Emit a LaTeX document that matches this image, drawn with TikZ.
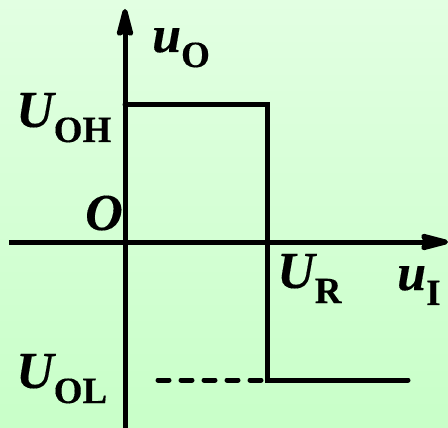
\documentclass[tikz,border=0pt]{standalone}
\usepackage{fontspec}
\setmainfont{Liberation Serif}[BoldFeatures={FakeBold=0.25}, BoldItalicFeatures={FakeBold=0.25}]
\usepackage{xcolor}
\usetikzlibrary{arrows.meta}

\definecolor{bgtop}{RGB}{226,255,226}
\definecolor{bgbottom}{RGB}{200,255,200}

\newcommand{\symsub}[2]{{\itshape #1}\raisebox{-15pt}{\fontsize{37}{37}\selectfont #2}}

\begin{document}
\begin{tikzpicture}[
  x=1pt, y=-1pt,
  lbl/.style={anchor=base west, inner sep=0pt, font=\fontsize{52}{52}\selectfont\bfseries},
  axis/.style={line width=5pt, -{Stealth[length=36pt, width=18pt, inset=4pt, round]}},
  curve/.style={line width=5pt, line cap=round, line join=miter},
  dashline/.style={line width=5pt, line cap=round, dash pattern=on 11pt off 12pt},
]
  % background
  \shade[top color=bgtop, bottom color=bgbottom] (0,0) rectangle (448,428);
  \useasboundingbox (0,0) rectangle (448,428);

  % axes
  \coordinate (xstart) at (9,242);
  \coordinate (xend) at (448,242);
  \coordinate (ystart) at (125,430);
  \coordinate (yend) at (125,9);
  \draw[axis] (xstart) -- (xend);
  \draw[axis] (ystart) -- (yend);

  % transfer characteristic
  \coordinate (high0) at (125,105);
  \coordinate (high1) at (267,105);
  \coordinate (low0) at (267,380);
  \coordinate (low1) at (408,380);
  \coordinate (dash0) at (158,380);
  \draw[curve] (high0) -- (high1) -- (low0) -- (low1);
  \draw[dashline] (dash0) -- (low0);

  % labels
  \node[lbl] (uo) at (152,52) {\symsub{u}{O}};
  \node[lbl] (uoh) at (16,127) {\symsub{U}{OH}};
  \node[lbl] (origin) at (85,230) {\itshape O};
  \node[lbl] (ur) at (277,288) {\symsub{U}{R}};
  \node[lbl] (ui) at (397,290) {\symsub{u}{I}};
  \node[lbl] (uol) at (16,388) {\symsub{U}{OL}};
\end{tikzpicture}
\end{document}
